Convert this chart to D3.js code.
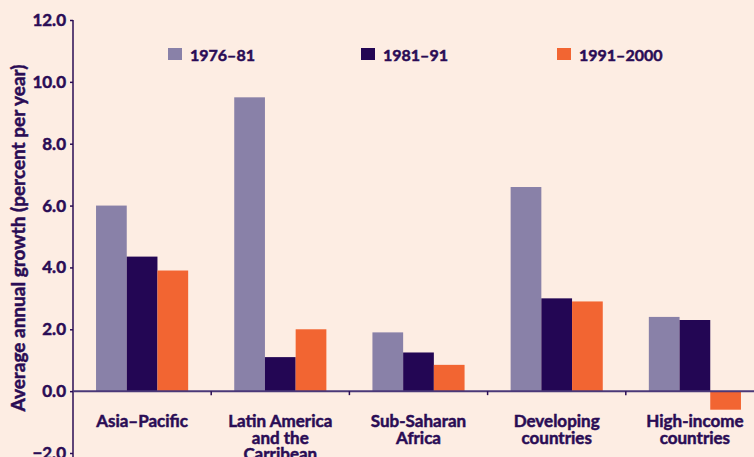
<!DOCTYPE html>
<html>
<head>
<meta charset="utf-8">
<script src="https://cdn.jsdelivr.net/npm/d3@7"></script>
<style>
  body { margin: 0; background: #fdede3; }
  svg { display: block; font-family: Lato, "Open Sans", sans-serif; font-weight: 700; }
  svg text { stroke: #2a0c55; stroke-width: 0.5px; }
</style>
</head>
<body>
<svg id="chart"></svg>
<script>
const width = 754, height = 457
const textColor = "#2a0c55"

// data
const categories = ["Asia–Pacific", "Latin America and the Carribean", "Sub-Saharan Africa", "Developing countries", "High-income countries"]
const categoryLines = [["Asia–Pacific"], ["Latin America", "and the", "Carribean"], ["Sub-Saharan", "Africa"], ["Developing", "countries"], ["High-income", "countries"]]
const periods = ["1976–81", "1981–91", "1991–2000"]
const growth1976 = [6.0, 9.5, 1.9, 6.6, 2.4]
const growth1981 = [4.35, 1.1, 1.25, 3.0, 2.3]
const growth1991 = [3.9, 2.0, 0.85, 2.9, -0.6]
const periodColors = ["#8981a8", "#230654", "#f26532"]
const yTicks = [-2, 0, 2, 4, 6, 8, 10, 12]

const series = [growth1976, growth1981, growth1991]

const svg = d3.select("#chart").attr("width", width).attr("height", height)

svg.append("rect").attr("width", width).attr("height", height).attr("fill", "#fdede3")

const x0 = d3.scaleBand().domain(categories).range([73, 764]).paddingInner(0).paddingOuter(0)
const x1 = d3.scaleBand().domain(periods).range([0, x0.bandwidth()]).paddingInner(0).paddingOuter(0.75)
const y = d3.scaleLinear().domain([-2, 12]).range([453, 20])

// bars
const groups = svg.append("g").selectAll("g")
    .data(categories)
    .join("g")
    .attr("transform", d => `translate(${x0(d)},0)`)

groups.selectAll("rect")
    .data((c, i) => periods.map((p, j) => ({period: p, value: series[j][i]})))
    .join("rect")
    .attr("x", d => x1(d.period))
    .attr("width", x1.bandwidth())
    .attr("y", d => y(Math.max(0, d.value)))
    .attr("height", d => Math.abs(y(d.value) - y(0)))
    .attr("fill", (d, j) => periodColors[j])

// y axis
const yAxis = svg.append("g")
    .attr("transform", "translate(73,0)")
    .call(d3.axisLeft(y).tickValues(yTicks).tickFormat(d3.format(".1f")).tickSize(3).tickPadding(4))
yAxis.select(".domain").attr("stroke", textColor).attr("stroke-width", 1.5).attr("d", `M0,${y(12)}V${height}`)
yAxis.selectAll(".tick line").attr("stroke", textColor).attr("stroke-width", 1.5)
yAxis.selectAll(".tick text")
    .attr("fill", textColor)
    .style("font-size", "17px")
    .style("font-family", "Lato, sans-serif")
    .style("font-weight", 700)

// zero line + category ticks
svg.append("line")
    .attr("x1", 73).attr("x2", width)
    .attr("y1", y(0)).attr("y2", y(0))
    .attr("stroke", "#4a3878").attr("stroke-width", 2)

svg.append("g").selectAll("line")
    .data(categories.slice(1))
    .join("line")
    .attr("x1", d => x0(d)).attr("x2", d => x0(d))
    .attr("y1", y(0)).attr("y2", y(0) + 4)
    .attr("stroke", textColor).attr("stroke-width", 1.5)

// category labels
const catLabels = svg.append("g").selectAll("text")
    .data(categories)
    .join("text")
    .attr("x", d => x0(d) + x0.bandwidth() / 2)
    .attr("y", 427)
    .attr("text-anchor", "middle")
    .attr("fill", textColor)
    .style("font-size", "17px")

catLabels.selectAll("tspan")
    .data((d, i) => categoryLines[i])
    .join("tspan")
    .attr("x", function () { return this.parentNode.getAttribute("x") })
    .attr("dy", (d, i) => i == 0 ? 0 : 16.5)
    .text(d => d)

// y axis title
svg.append("text")
    .attr("transform", "translate(25,238) rotate(-90)")
    .attr("text-anchor", "middle")
    .attr("fill", textColor)
    .style("font-size", "19px")
    .text("Average annual growth (percent per year)")

// legend
const legendX = [168, 361, 557]
const legend = svg.append("g").selectAll("g")
    .data(periods)
    .join("g")
    .attr("transform", (d, i) => `translate(${legendX[i]},48)`)

legend.append("rect")
    .attr("width", 14).attr("height", 12)
    .attr("fill", (d, i) => periodColors[i])

legend.append("text")
    .attr("x", 22).attr("y", 12.5)
    .attr("fill", textColor)
    .style("font-size", "16px")
    .text(d => d)
</script>
</body>
</html>
